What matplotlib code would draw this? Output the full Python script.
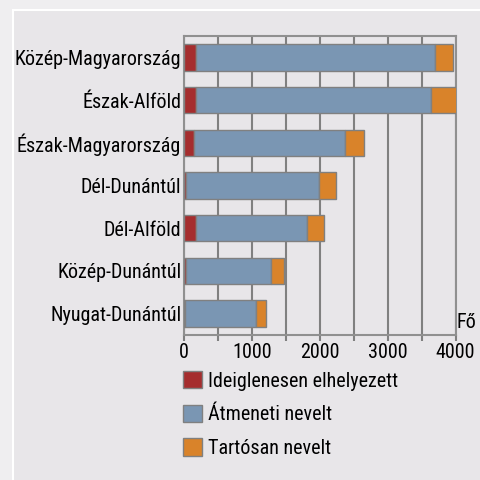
import matplotlib.pyplot as plt
from matplotlib.patches import Rectangle

regions = ['Közép-Magyarország', 'Észak-Alföld', 'Észak-Magyarország', 'Dél-Dunántúl',
           'Dél-Alföld', 'Közép-Dunántúl', 'Nyugat-Dunántúl']
ideiglenes = [180, 170, 150, 30, 170, 30, 15]
atmeneti = [3525, 3475, 2215, 1965, 1635, 1245, 1050]
tartosan = [260, 370, 280, 240, 260, 195, 150]

series_names = ['Ideiglenesen elhelyezett', 'Átmeneti nevelt', 'Tartósan nevelt']
colors = ['#a52d2e', '#7a96b3', '#d9832a']

plt.rcParams['font.family'] = ['Roboto Condensed', 'Archivo Narrow', 'DejaVu Sans']

fs = 14.5
bg = '#e8e6e9'
fig = plt.figure(figsize=(4.8, 4.8), dpi=100, facecolor='#efeef0')
fig.add_artist(Rectangle((13 / 480, -0.01), 1.0, 1 - 10 / 480 + 0.01,
                         transform=fig.transFigure, facecolor=bg,
                         edgecolor='white', linewidth=1.5, zorder=-10))

ax = fig.add_axes([184 / 480, 1 - 335 / 480, 271.5 / 480, 299 / 480])
ax.set_facecolor(bg)

y = list(range(len(regions)))
left = [0] * len(regions)
for vals, name, c in zip([ideiglenes, atmeneti, tartosan], series_names, colors):
    ax.barh(y, vals, left=left, height=0.62, color=c, edgecolor='#808080',
            linewidth=1.0, label=name, zorder=3)
    left = [a + b for a, b in zip(left, vals)]

ax.set_xlim(0, 4000)
ax.set_ylim(len(regions) - 0.5, -0.5)
ax.set_yticks(y)
ax.set_yticklabels(regions, fontsize=fs)
ax.set_xticks([0, 1000, 2000, 3000, 4000])
ax.set_xticks(range(500, 4000, 1000), minor=True)
ax.tick_params(axis='x', labelsize=fs, length=4, width=1.5, color='#808080', pad=2,
               which='both')
ax.tick_params(axis='y', length=0, pad=2)
ax.grid(axis='x', which='both', color='#808080', linewidth=1.5, zorder=1)
for s in ax.spines.values():
    s.set_color('#909090')
    s.set_linewidth(1.5)

fig.text(457 / 480, 1 - 328 / 480, 'Fő', fontsize=fs, va='baseline', ha='left')

handles, labels = ax.get_legend_handles_labels()
leg = fig.legend(handles, labels, loc='upper left', bbox_to_anchor=(175 / 480, 1 - 363 / 480),
                 frameon=False, fontsize=fs, handlelength=0.95, handleheight=0.95,
                 labelspacing=0.7, handletextpad=0.3, borderaxespad=0)

fig.savefig('out.png', dpi=100, facecolor=fig.get_facecolor())
